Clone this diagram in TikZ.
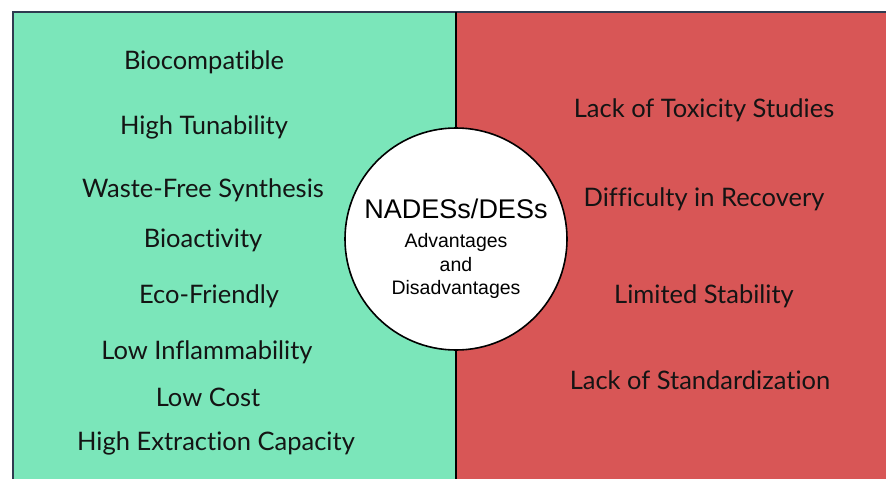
\documentclass[tikz,border=0pt]{standalone}
\usepackage{fontspec}
\setmainfont{Lato}[Ligatures=NoCommon]
\newfontfamily\arialfont{Liberation Sans}
\usepackage{xcolor}
\usetikzlibrary{positioning}
\definecolor{ProGreen}{RGB}{123, 230, 186}
\definecolor{ConRed}{RGB}{216, 86, 86}
\definecolor{EdgeNavy}{RGB}{47, 59, 80}

\begin{document}
\begin{tikzpicture}[x=1pt, y=-1pt,
    item/.style={font=\fontsize{25.5}{30}\selectfont, text=black!92, inner sep=0pt},
    hubtext/.style={font=\arialfont, text=black, inner sep=0pt, align=center}]
  \useasboundingbox (0,0) rectangle (886,479);
  % the two panels
  \fill[ProGreen] (13,12) rectangle (456,479);
  \fill[ConRed] (456,12) rectangle (886,479);
  \draw[EdgeNavy, line width=2pt] (13,479) -- (13,12) -- (886,12);
  \draw[black, line width=2pt] (456,12) -- (456,479);

  % centre disc
  \node[circle, draw=black, fill=white, line width=1.6pt, minimum size=222pt, inner sep=0pt] (hub) at (456,239) {};
  \node[hubtext, font=\arialfont\fontsize{27}{30}\selectfont] (hubtitle) at (456,209) {NADESs/DESs};
  \node[hubtext, font=\arialfont\fontsize{19.5}{23.5}\selectfont] (hubsub) at (456,266) {Advantages\\and\\Disadvantages};

  % advantages
  \node[item] (biocomp) at (204,62) {Biocompatible};
  \node[item] (tunable) at (204,127) {High Tunability};
  \node[item] (wastefree) at (203,190) {Waste-Free Synthesis};
  \node[item] (bioact) at (203,240) {Bioactivity};
  \node[item] (eco) at (209,296) {Eco-Friendly};
  \node[item] (inflam) at (207,352) {Low Inflammability};
  \node[item] (lowcost) at (208,397) {Low Cost};
  \node[item] (extract) at (216,443) {High Extraction Capacity};

  % disadvantages
  \node[item] (toxic) at (704,110) {Lack of Toxicity Studies};
  \node[item] (recover) at (704,199) {Difficulty in Recovery};
  \node[item] (stable) at (704,296) {Limited Stability};
  \node[item] (standard) at (700,380) {Lack of Standardization};
\end{tikzpicture}
\end{document}
